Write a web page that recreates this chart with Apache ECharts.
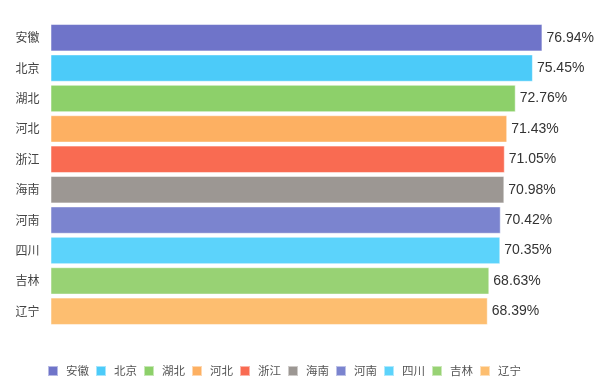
<!DOCTYPE html>
<html><head><meta charset="utf-8">
<script src="https://cdn.jsdelivr.net/npm/echarts@6/dist/echarts.min.js"></script>
<style>html,body{margin:0;padding:0;background:#fff}#c{width:600px;height:389px}</style>
</head><body><div id="c"></div>
<script>
const categories = ['安徽','北京','湖北','河北','浙江','海南','河南','四川','吉林','辽宁'];
const values = [76.94, 75.45, 72.76, 71.43, 71.05, 70.98, 70.42, 70.35, 68.63, 68.39];
const colors = ['#6f74c9','#4ccbf9','#8dd06a','#fdb062','#f96b52','#9c9793','#7b84cf','#5cd3fb','#98d274','#fdbe70'];

const series = categories.map((name, i) => ({
  name: name,
  type: 'bar',
  stack: 'total',
  barCategoryGap: '10%',
  itemStyle: { color: colors[i], borderColor: 'rgba(255,255,255,0.5)', borderWidth: 1 },
  label: {
    show: true, position: 'right', distance: 4,
    formatter: p => p.value.toFixed(2) + '%',
    color: '#333', fontSize: 14, fontFamily: 'Liberation Sans, Arial, sans-serif'
  },
  data: categories.map((c, j) => j === i ? values[i] : '-')
}));

const chart = echarts.init(document.getElementById('c'));
chart.setOption({
  animation: false,
  grid: { left: 50.5, right: 38, top: 22.5, bottom: 62.5, containLabel: false },
  xAxis: { type: 'value', min: 0, max: 80, show: false },
  yAxis: {
    type: 'category', data: categories, inverse: true,
    axisLine: { show: false }, axisTick: { show: false },
    axisLabel: { color: '#444', fontSize: 12, margin: 11, fontFamily: 'Noto Sans CJK SC, sans-serif' }
  },
  legend: {
    top: 360, left: 42,
    itemWidth: 10, itemHeight: 10, itemGap: 6,
    icon: 'rect',
    textStyle: { color: '#555', fontSize: 11.5, padding: [0, 0, 0, 3], fontFamily: 'Noto Sans CJK SC, sans-serif' },
    data: categories
  },
  series: series
});
</script></body></html>
